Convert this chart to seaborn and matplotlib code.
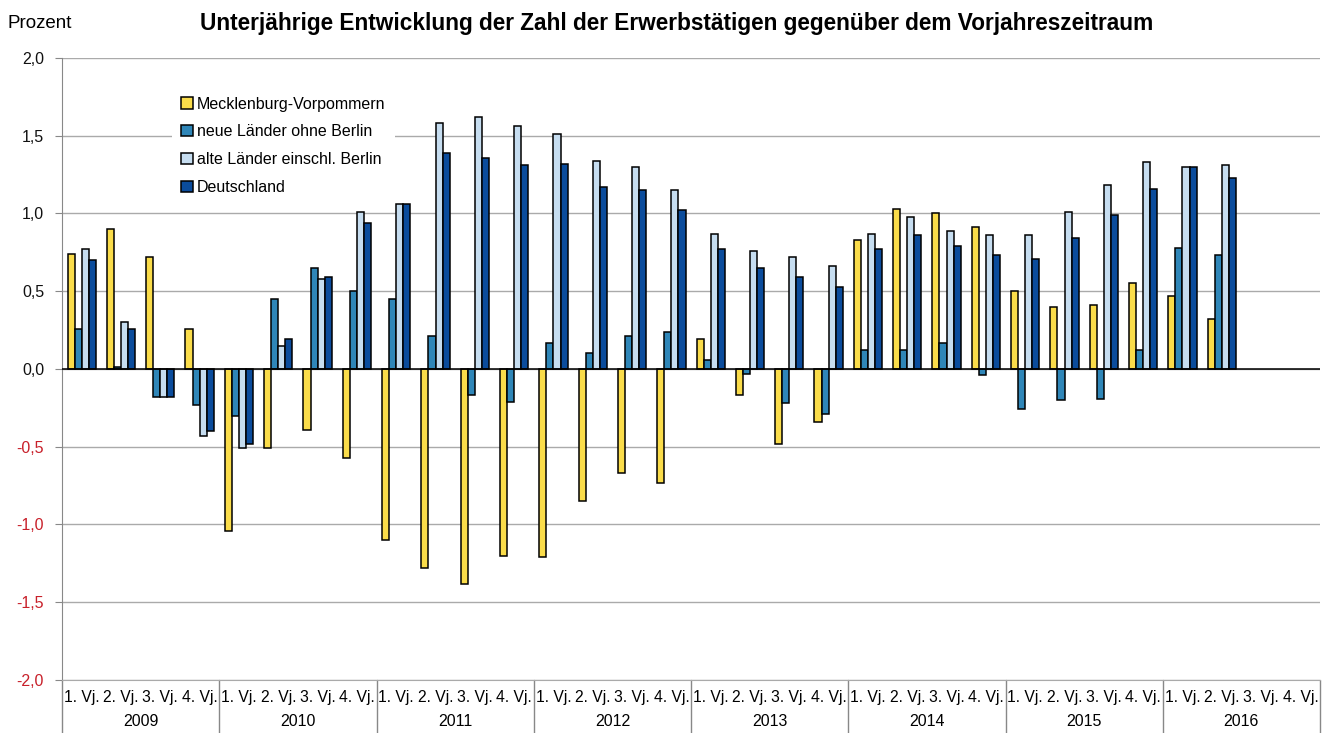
import numpy as np
import pandas as pd
import matplotlib
matplotlib.use("Agg")
import matplotlib.pyplot as plt
import matplotlib.transforms as mtransforms
import seaborn as sns

# ── DATA ──────────────────────────────────────────────────
YEARS    = ["2009", "2010", "2011", "2012", "2013", "2014", "2015", "2016"]
QUARTERS = ["1. Vj.", "2. Vj.", "3. Vj.", "4. Vj."]
SERIES   = ["Mecklenburg-Vorpommern", "neue Länder ohne Berlin",
            "alte Länder einschl. Berlin", "Deutschland"]

mv = [0.74, 0.90, 0.72, 0.26,   -1.04, -0.51, -0.39, -0.57,
      -1.10, -1.28, -1.38, -1.20,  -1.21, -0.85, -0.67, -0.73,
      0.19, -0.17, -0.48, -0.34,   0.83, 1.03, 1.00, 0.91,
      0.50, 0.40, 0.41, 0.55,      0.47, 0.32, np.nan, np.nan]
nl = [0.26, 0.01, -0.18, -0.23,  -0.30, 0.45, 0.65, 0.50,
      0.45, 0.21, -0.17, -0.21,   0.17, 0.10, 0.21, 0.24,
      0.06, -0.03, -0.22, -0.29,  0.12, 0.12, 0.17, -0.04,
      -0.26, -0.20, -0.19, 0.12,  0.78, 0.73, np.nan, np.nan]
al = [0.77, 0.30, -0.18, -0.43,  -0.51, 0.15, 0.58, 1.01,
      1.06, 1.58, 1.62, 1.56,     1.51, 1.34, 1.30, 1.15,
      0.87, 0.76, 0.72, 0.66,     0.87, 0.98, 0.89, 0.86,
      0.86, 1.01, 1.18, 1.33,     1.30, 1.31, np.nan, np.nan]
de = [0.70, 0.26, -0.18, -0.40,  -0.48, 0.19, 0.59, 0.94,
      1.06, 1.39, 1.36, 1.31,     1.32, 1.17, 1.15, 1.02,
      0.77, 0.65, 0.59, 0.53,     0.77, 0.86, 0.79, 0.73,
      0.71, 0.84, 0.99, 1.16,     1.30, 1.23, np.nan, np.nan]

COLOURS = ["#FADC4A", "#2F86B8", "#C6DDF0", "#0B4C9C"]
# ─────────────────────────────────────────────────────────

sns.set_style("white")
plt.rcParams["font.family"] = ["Liberation Sans", "DejaVu Sans"]
plt.rcParams["text.color"] = "black"
plt.rcParams["xtick.color"] = "black"
plt.rcParams["ytick.color"] = "black"

cats = [f"{y} {q}" for y in YEARS for q in QUARTERS]
df = pd.DataFrame({
    "cat": cats * 4,
    "series": np.repeat(SERIES, len(cats)),
    "value": mv + nl + al + de,
})

fig = plt.figure(figsize=(13.26, 7.33), dpi=100)
ax = fig.add_axes([0.0468, 0.0723, 0.9487, 0.8486])

sns.barplot(data=df, x="cat", y="value", hue="series", order=cats,
            hue_order=SERIES, palette=COLOURS, saturation=1, width=0.72, gap=0,
            edgecolor="black", linewidth=1.1, errorbar=None, ax=ax, zorder=3)

ax.set_xlim(-0.5, len(cats) - 0.5)
ax.set_ylim(-2.0, 2.0)
yt = np.arange(-2.0, 2.01, 0.5)
ax.set_yticks(yt)
ax.set_yticklabels([f"{v:.1f}".replace(".", ",") for v in yt], fontsize=11.5)
for lbl, v in zip(ax.get_yticklabels(), yt):
    lbl.set_color("#C8202A" if v < 0 else "#111111")
ax.tick_params(axis="y", length=5, color="#888888", direction="out", pad=8, left=True)
ax.grid(True, axis="y", color="#AAAAAA", linewidth=1, zorder=0)
ax.axhline(0, color="black", linewidth=1.1, zorder=4)

ax.set_xticks(range(len(cats)))
ax.set_xticklabels(QUARTERS * len(YEARS), fontsize=11.3)
ax.tick_params(axis="x", length=0, pad=7)
ax.set_xlabel("")
ax.set_ylabel("")

for side in ["top", "right"]:
    ax.spines[side].set_visible(False)
ax.spines["left"].set_color("#888888")
ax.spines["bottom"].set_color("#AAAAAA")

# year separators and year labels below the axis
trans = mtransforms.blended_transform_factory(ax.transData, ax.transAxes)
for i in range(len(YEARS) + 1):
    ax.plot([i * 4 - 0.5] * 2, [0, -0.09], transform=trans, color="#888888",
            linewidth=1, clip_on=False)
for i, y in enumerate(YEARS):
    ax.text(i * 4 + 1.5, -0.066, y, transform=trans, ha="center", va="center",
            fontsize=11.5)

handles, labels = ax.get_legend_handles_labels()
leg = ax.legend(handles, labels, loc="upper left", bbox_to_anchor=(0.0835, 0.961),
                frameon=True, facecolor="white", edgecolor="none", framealpha=1,
                fontsize=11.5, handlelength=0.7, handleheight=0.7,
                handletextpad=0.25, labelspacing=0.8, borderpad=0.6,
                borderaxespad=0.3)
leg.set_zorder(5)

fig.text(0.006, 0.968, "Prozent", fontsize=13.5, va="center", ha="left")
fig.text(0.51, 0.968,
         "Unterjährige Entwicklung der Zahl der Erwerbstätigen gegenüber dem Vorjahreszeitraum",
         fontsize=16.3, fontweight="bold", ha="center", va="center")

fig.savefig("out.png", dpi=100, facecolor="white")
